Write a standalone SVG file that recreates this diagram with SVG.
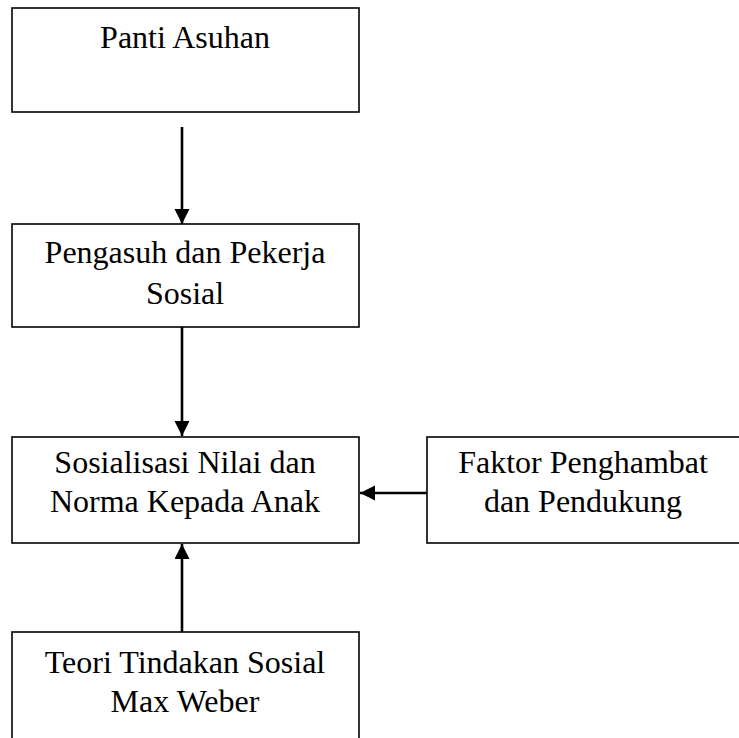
<svg xmlns="http://www.w3.org/2000/svg" width="739" height="738" viewBox="0 0 739 738">
<style>
.box{fill:#fff;stroke:#000;stroke-width:1.6}
.t{font-family:"Liberation Serif","Times New Roman",serif;font-size:32px;fill:#000;text-anchor:middle}
.c{stroke:#000;stroke-width:2.6;fill:none}
</style>
<defs>
<marker id="ah" markerUnits="userSpaceOnUse" markerWidth="16" markerHeight="16" refX="15" refY="7.5" orient="auto">
<path d="M0,0 L15,7.5 L0,15 z" fill="#000"/>
</marker>
</defs>
<rect width="739" height="738" fill="#fff"/>
<g id="n1"><rect class="box" x="12" y="8" width="347" height="104"/><text class="t" x="185" y="48">Panti Asuhan</text></g>
<g id="n2"><rect class="box" x="12" y="224" width="347" height="103"/><text class="t" x="185" y="263">Pengasuh dan Pekerja</text><text class="t" x="185" y="304">Sosial</text></g>
<g id="n3"><rect class="box" x="12" y="437" width="347" height="106"/><text class="t" x="185" y="473">Sosialisasi Nilai dan</text><text class="t" x="185" y="512">Norma Kepada Anak</text></g>
<g id="n4"><rect class="box" x="427" y="437" width="313" height="106"/><text class="t" x="583" y="473">Faktor Penghambat</text><text class="t" x="583" y="512">dan Pendukung</text></g>
<g id="n5"><rect class="box" x="12" y="632" width="347" height="120"/><text class="t" x="185" y="673">Teori Tindakan Sosial</text><text class="t" x="185" y="712">Max Weber</text></g>
<g id="connectors">
<line class="c" x1="182" y1="127" x2="182" y2="224" marker-end="url(#ah)"/>
<line class="c" x1="182" y1="327" x2="182" y2="436" marker-end="url(#ah)"/>
<line class="c" x1="427" y1="493" x2="360" y2="493" marker-end="url(#ah)"/>
<line class="c" x1="182" y1="632" x2="182" y2="544" marker-end="url(#ah)"/>
</g>
</svg>
